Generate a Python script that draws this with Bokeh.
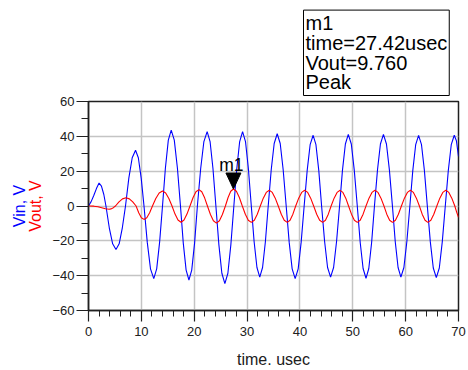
import math
from bokeh.plotting import figure
from bokeh.models import (Range1d, SingleIntervalTicker, FixedTicker, Label,
                          LinearAxis, Title)
from bokeh.embed import file_html
from bokeh.resources import INLINE

# ---- data ----
vin_t = [0, 0.5, 1.0, 1.5, 2.0, 2.45, 2.9, 3.3, 3.93, 4.57, 5.2, 5.8, 6.4, 7.0,
         7.63, 8.27, 8.9, 9.43, 9.97, 10.5, 11.12, 11.73, 12.35, 12.9, 13.45, 14.0,
         14.55, 15.1, 15.65, 16.23, 16.82, 17.4, 17.93, 18.47, 19.0, 19.53, 20.07, 20.6,
         21.22, 21.83, 22.45, 23.0, 23.55, 24.1, 24.67, 25.23, 25.8, 26.37, 26.93, 27.5,
         28.05, 28.6, 29.15, 29.7, 30.25, 30.8, 31.33, 31.87, 32.4, 32.93, 33.47, 34.0,
         34.57, 35.13, 35.7, 36.27, 36.83, 37.4, 37.97, 38.53, 39.1, 39.67, 40.23, 40.8,
         41.37, 41.93, 42.5, 43.03, 43.57, 44.1, 44.67, 45.23, 45.8, 46.37, 46.93, 47.5,
         48.05, 48.6, 49.15, 49.72, 50.28, 50.85, 51.4, 51.95, 52.5, 53.03, 53.57, 54.1,
         54.67, 55.23, 55.8, 56.37, 56.93, 57.5, 58.03, 58.57, 59.1, 59.67, 60.23, 60.8,
         61.35, 61.9, 62.45, 63.0, 63.55, 64.1, 64.67, 65.23, 65.8, 66.37, 66.93, 67.5,
         68.07, 68.63, 69.2, 69.6, 70.0]
vin_v = [0, 2.5, 6.0, 10.0, 13.2, 11.4, 6.6, 0, -12.5, -21.7, -25.0, -21.7, -12.5, 0,
         16.0, 27.7, 32.0, 27.7, 16.0, 0, -20.9, -36.1, -41.7, -36.1, -20.9, 0,
         21.8, 37.8, 43.6, 37.8, 21.8, 0, -21.3, -36.8, -42.5, -36.8, -21.3, 0,
         21.4, 37.0, 42.7, 37.0, 21.4, 0, -22.3, -38.6, -44.6, -38.6, -22.3, 0,
         21.4, 37.0, 42.7, 37.0, 21.4, 0, -20.4, -35.3, -40.8, -35.3, -20.4, 0,
         20.8, 35.9, 41.5, 35.9, 20.8, 0, -20.9, -36.1, -41.7, -36.1, -20.9, 0,
         20.3, 35.2, 40.6, 35.2, 20.3, 0, -20.4, -35.3, -40.8, -35.3, -20.4, 0,
         20.6, 35.6, 41.1, 35.6, 20.6, 0, -20.8, -35.9, -41.5, -35.9, -20.8, 0,
         20.6, 35.6, 41.1, 35.6, 20.6, 0, -20.4, -35.3, -40.8, -35.3, -20.4, 0,
         20.3, 35.2, 40.6, 35.2, 20.3, 0, -20.6, -35.6, -41.1, -35.6, -20.6, 0,
         20.3, 35.2, 40.6, 37.5, 28.5]

vout_t = [0, 1.0, 1.8, 2.5, 3.2, 3.9, 4.3, 4.7, 5.1, 5.77, 6.43, 7.1, 7.73, 8.37, 9.0,
          9.5, 10.0, 10.5, 11.03, 11.57, 12.1, 12.73, 13.37, 14.0, 14.6, 15.2, 15.8,
          16.37, 16.93, 17.5, 18.07, 18.63, 19.2, 19.77, 20.33, 20.9, 21.43, 21.97, 22.5,
          23.07, 23.63, 24.2, 24.77, 25.33, 25.9, 26.41, 26.91, 27.42, 27.98, 28.54, 29.1,
          29.67, 30.23, 30.8, 31.37, 31.93, 32.5, 33.07, 33.63, 34.2, 34.77, 35.33, 35.9,
          36.47, 37.03, 37.6, 38.13, 38.67, 39.2, 39.77, 40.33, 40.9, 41.47, 42.03, 42.6,
          43.17, 43.73, 44.3, 44.83, 45.37, 45.9, 46.47, 47.03, 47.6, 48.13, 48.67, 49.2,
          49.75, 50.3, 50.85, 51.4, 51.95, 52.5, 53.07, 53.63, 54.2, 54.77, 55.33, 55.9,
          56.43, 56.97, 57.5, 58.07, 58.63, 59.2, 59.77, 60.33, 60.9, 61.47, 62.03, 62.6,
          63.13, 63.67, 64.2, 64.77, 65.33, 65.9, 66.47, 67.03, 67.6, 68.17, 68.73, 69.3,
          69.65, 70.0]
vout_v = [0, -0.1, -0.4, -1.0, -1.6, -1.9, -1.65, -0.95, 0, 2.35, 4.1, 4.7, 4.1, 2.35, 0,
          -3.85, -6.7, -7.7, -6.7, -3.85, 0, 4.3, 7.45, 8.6, 7.45, 4.3, 0,
          -4.65, -8.05, -9.3, -8.05, -4.65, 0, 4.7, 8.15, 9.4, 8.15, 4.7, 0,
          -4.9, -8.5, -9.8, -8.5, -4.9, 0, 4.9, 8.45, 9.76, 8.45, 4.9, 0,
          -4.7, -8.15, -9.4, -8.15, -4.7, 0, 4.5, 7.8, 9.0, 7.8, 4.5, 0,
          -4.7, -8.15, -9.4, -8.15, -4.7, 0, 4.5, 7.8, 9.0, 7.8, 4.5, 0,
          -4.7, -8.15, -9.4, -8.15, -4.7, 0, 4.5, 7.8, 9.0, 7.8, 4.5, 0,
          -4.7, -8.15, -9.4, -8.15, -4.7, 0, 4.5, 7.8, 9.0, 7.8, 4.5, 0,
          -4.7, -8.15, -9.4, -8.15, -4.7, 0, 4.5, 7.8, 9.0, 7.8, 4.5, 0,
          -4.7, -8.15, -9.4, -8.15, -4.7, 0, 4.5, 7.8, 9.0, 7.8, 4.5, 0,
          -3.5, -6.5]

marker_name = "m1"
marker_time = 27.42
marker_vout = 9.760
marker_text = ["m1", "time=27.42usec", "Vout=9.760", "Peak"]

x_start, x_end = 0, 70
y_start, y_end = -60, 60
x_label = "time. usec"
y_label_vin = "Vin, V"
y_label_vout = "Vout, V"

FONT = "Liberation Sans"
INK = "#202020"

# ---- layout ----
W, H = 468, 370
ML, MR, MT, MB = 88, 10, 101, 60
FW, FH = W - ML - MR, H - MT - MB

p = figure(width=W, height=H, output_backend="svg", toolbar_location=None,
           x_range=Range1d(x_start, x_end), y_range=Range1d(y_start, y_end),
           min_border_left=ML, min_border_right=MR, min_border_top=MT,
           min_border_bottom=MB)
p.background_fill_color = "white"
p.border_fill_color = "white"
p.outline_line_color = INK
p.outline_line_width = 1.5

p.xaxis.ticker = SingleIntervalTicker(interval=10, num_minor_ticks=5)
p.yaxis.ticker = SingleIntervalTicker(interval=20, num_minor_ticks=2)
for ax in (p.xaxis, p.yaxis):
    ax.axis_line_color = INK
    ax.axis_line_width = 1.5
    ax.major_tick_line_color = INK
    ax.minor_tick_line_color = INK
    ax.major_tick_line_width = 1.2
    ax.minor_tick_line_width = 1.0
    ax.major_tick_in = 0
    ax.minor_tick_in = 0
    ax.major_label_text_font = FONT
    ax.major_label_text_font_size = "13px"
    ax.major_label_text_color = INK
p.xaxis.major_tick_out = 11
p.xaxis.minor_tick_out = 6
p.xaxis.major_label_standoff = 5
p.yaxis.major_tick_out = 12
p.yaxis.minor_tick_out = 7
p.yaxis.major_label_standoff = 2

p.xaxis.axis_label = x_label
p.xaxis.axis_label_text_font = FONT
p.xaxis.axis_label_text_font_size = "16px"
p.xaxis.axis_label_text_font_style = "normal"
p.xaxis.axis_label_text_color = INK
p.xaxis.axis_label_standoff = 12

# two coloured y titles as label-only axes stacked left of the value axis
def title_axis(text, color, standoff):
    return LinearAxis(ticker=FixedTicker(ticks=[]), axis_label=text,
                      axis_label_text_color=color, axis_label_text_font=FONT,
                      axis_label_text_font_size="16px",
                      axis_label_text_font_style="normal",
                      axis_label_standoff=standoff, axis_line_color=None,
                      major_tick_out=0, major_tick_in=0, minor_tick_out=0,
                      minor_tick_in=0, major_label_text_font_size="0px")

p.add_layout(title_axis(y_label_vout, "#ff0000", 6), "left")
p.add_layout(title_axis(y_label_vin, "#0000ff", -4), "left")

p.xgrid.grid_line_color = "#c4c4c4"
p.ygrid.grid_line_color = "#c4c4c4"
p.xgrid.grid_line_width = 1.5
p.ygrid.grid_line_width = 1.5

p.line(vin_t, vin_v, line_color="#0000ff", line_width=1.1)
p.line(vout_t, vout_v, line_color="#ff0000", line_width=1.1)

# marker triangle: tip on the marker point, sized in pixels
px_x = FW / (x_end - x_start)
px_y = FH / (y_end - y_start)
half_w = 7.5 / px_x
tri_h = 16 / px_y
p.patch([marker_time - half_w, marker_time + half_w, marker_time],
        [marker_vout + tri_h, marker_vout + tri_h, marker_vout],
        fill_color="black", line_color="black")
p.add_layout(Label(x=marker_time, y=marker_vout, text=marker_name,
                   x_offset=-2, y_offset=24, text_align="center",
                   text_baseline="alphabetic", text_font=FONT,
                   text_font_size="17.5px", text_color="black"))

# marker readout box above the frame
readout = Title(text="\n".join(marker_text), align="left", offset=215,
                vertical_align="bottom", standoff=12, text_font=FONT,
                text_font_size="20px", text_font_style="normal",
                text_color="black")
props = readout.properties()
for k, v in (("text_line_height", 0.9), ("border_line_color", "black"),
             ("border_line_width", 1), ("background_fill_color", "white"),
             ("padding", 2)):
    if k in props:
        setattr(readout, k, v)
p.add_layout(readout, "above")

open("out.html", "w").write(file_html(p, INLINE))
